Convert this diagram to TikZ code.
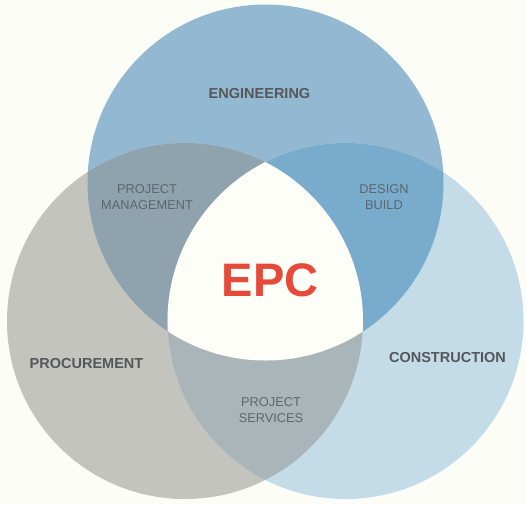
\documentclass[tikz,border=0pt]{standalone}
\usepackage{fontspec}
\setmainfont{Liberation Sans}
\definecolor{bgc}{HTML}{FDFDF8}
\definecolor{engc}{HTML}{93B9D2}
\definecolor{proc}{HTML}{C4C4BE}
\definecolor{conc}{HTML}{C4DCE8}
\definecolor{epc}{HTML}{8FA3AE}
\definecolor{ecc}{HTML}{79ACCC}
\definecolor{pcc}{HTML}{AAB5BA}
\definecolor{midc}{HTML}{FEFEF9}
\definecolor{titlec}{HTML}{55575A}
\definecolor{subc}{HTML}{5C666B}
\definecolor{redc}{HTML}{E64A3B}
\begin{document}
\begin{tikzpicture}[x=1pt,y=-1pt,
  maintitle/.style={font=\fontsize{14.5}{16}\selectfont\bfseries, text=titlec, inner sep=0pt},
  sublabel/.style={font=\fontsize{12.8}{16}\selectfont, text=subc, align=center, inner sep=0pt},
  bigtitle/.style={font=\fontsize{47}{50}\selectfont\bfseries, text=redc, inner sep=0pt}]
\fill[bgc] (0,0) rectangle (526,504);
\useasboundingbox (0,0) rectangle (526,504);
\def\R{178}
\coordinate (E) at (265.5,182.5);
\coordinate (P) at (185,321);
\coordinate (C) at (345.5,321);
\fill[engc] (E) circle (\R);
\fill[proc] (P) circle (\R);
\fill[conc] (C) circle (\R);
\begin{scope}
  \clip (E) circle (\R);
  \fill[epc] (P) circle (\R);
  \fill[ecc] (C) circle (\R);
\end{scope}
\begin{scope}
  \clip (P) circle (\R);
  \fill[pcc] (C) circle (\R);
\end{scope}
\begin{scope}
  \clip (E) circle (\R);
  \clip (P) circle (\R);
  \fill[midc] (C) circle (\R);
\end{scope}
\node[maintitle] (eng) at (259.5,94) {ENGINEERING};
\node[maintitle] (pro) at (86.5,363) {PROCUREMENT};
\node[maintitle] (con) at (447.5,357) {CONSTRUCTION};
\node[bigtitle] (mid) at (270,280) {EPC};
\node[sublabel] (pm) at (147,197) {PROJECT\\MANAGEMENT};
\node[sublabel] (db) at (384,197) {DESIGN\\BUILD};
\node[sublabel] (ps) at (271,410) {PROJECT\\SERVICES};
\end{tikzpicture}
\end{document}
